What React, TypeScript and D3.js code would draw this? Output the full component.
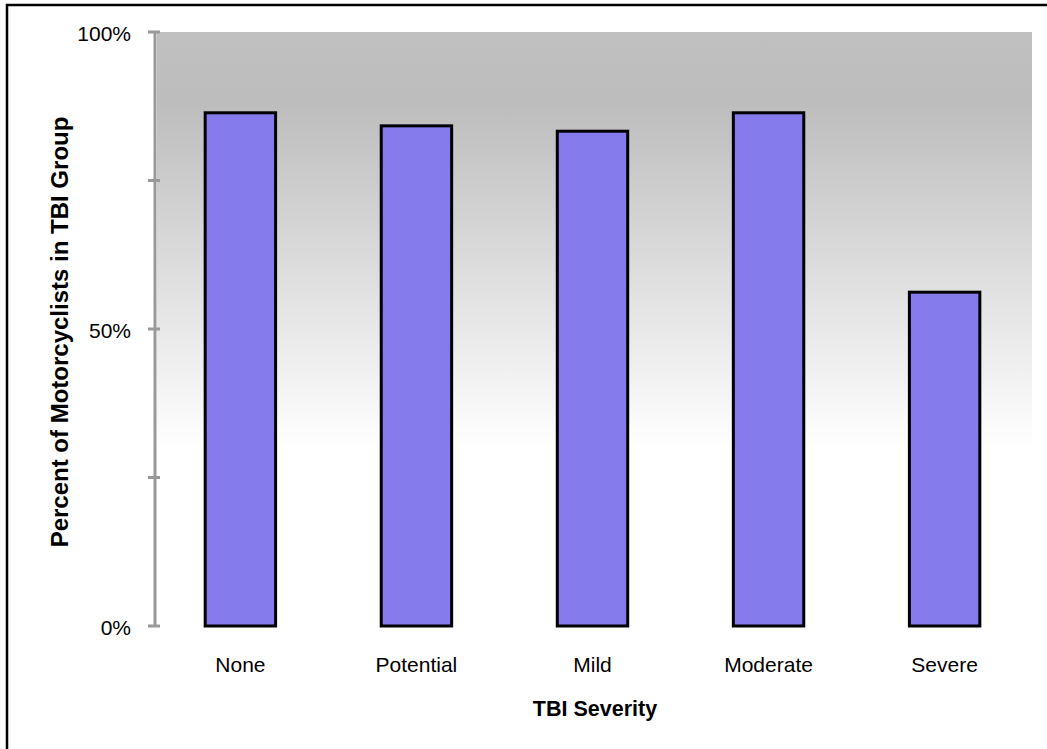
import React from "react";
import * as d3 from "d3";

const categories = ["None", "Potential", "Mild", "Moderate", "Severe"];
const values = [86.4, 84.2, 83.3, 86.4, 56.2];
const tickValues = [0, 25, 50, 75, 100];
const tickLabels: Record<number, string> = { 0: "0%", 50: "50%", 100: "100%" };

export default function App() {
  const W = 1047, H = 749;
  const left = 157, right = 1032, top = 32, bottom = 626;
  const x = d3.scaleBand<string>().domain(categories).range([left - 2, right - 2]).paddingInner(0.6).paddingOuter(0.285);
  const y = d3.scaleLinear().domain([0, 100]).range([bottom, top]);
  const font = "'Liberation Sans', Arial, sans-serif";
  return (
    <svg width={W} height={H} style={{ position: "absolute", left: 0, top: 0 }}>
      <defs>
        <linearGradient id="bg" x1="0" y1="0" x2="0" y2="1">
          <stop offset="0" stopColor="#c0c0c0" />
          <stop offset="0.12" stopColor="#bdbdbd" />
          <stop offset="0.7" stopColor="#ffffff" />
          <stop offset="1" stopColor="#ffffff" />
        </linearGradient>
      </defs>
      <rect x={0} y={0} width={W} height={H} fill="#fff" />
      <rect x={7} y={5} width={W + 10} height={H + 10} fill="none" stroke="#000" strokeWidth={2.5} />
      <rect x={left} y={top} width={right - left} height={bottom - top} fill="url(#bg)" />
      {categories.map((c, i) => (
        <rect key={c} x={x(c)} y={y(values[i])} width={x.bandwidth()} height={bottom - y(values[i])}
          fill="#857bec" stroke="#000" strokeWidth={3} />
      ))}
      <line x1={155} x2={155} y1={top} y2={bottom} stroke="#999" strokeWidth={3} />
      {tickValues.map(t => (
        <line key={t} x1={148} x2={160} y1={y(t)} y2={y(t)} stroke="#999" strokeWidth={3} />
      ))}
      {tickValues.filter(t => tickLabels[t]).map(t => (
        <text key={t} x={131} y={y(t) + 9} textAnchor="end" fontFamily={font} fontSize={21} fill="#000">{tickLabels[t]}</text>
      ))}
      {categories.map(c => (
        <text key={c} x={x(c)! + x.bandwidth() / 2} y={672} textAnchor="middle" fontFamily={font} fontSize={21} fill="#000">{c}</text>
      ))}
      <text x={595} y={716} textAnchor="middle" fontFamily={font} fontSize={21.5} fontWeight="bold" fill="#000">TBI Severity</text>
      <text transform={`translate(68,332) rotate(-90)`} textAnchor="middle" fontFamily={font} fontSize={24} fontWeight="bold" fill="#000">Percent of Motorcyclists in TBI Group</text>
    </svg>
  );
}
